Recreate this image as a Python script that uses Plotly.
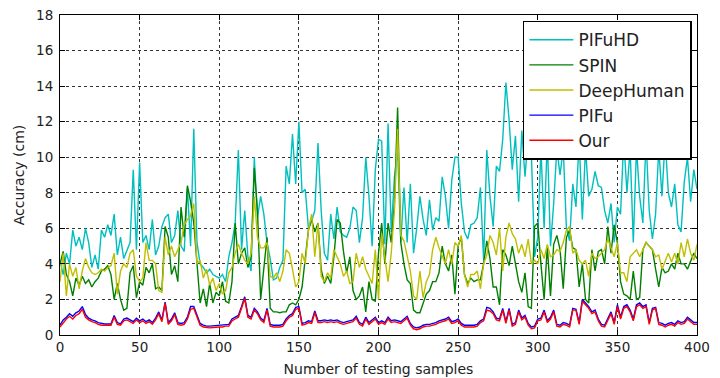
import plotly.graph_objects as go

# sample index (every second testing sample)
samples = list(range(0, 401, 2))

pifuhd = [
    4.2,3.4,4.6,4.0,5.9,5.0,5.5,4.8,6.0,5.2,3.8,4.5,3.7,5.9,5.5,6.2,5.6,6.8,4.5,5.5,4.3,4.8,5.2,9.3,4.8,
    9.7,5.2,5.6,4.8,6.5,4.5,5.0,6.1,6.6,6.8,5.2,5.6,7.0,5.0,4.7,8.3,5.0,11.6,5.2,4.0,3.8,3.5,3.7,3.4,3.3,
    3.2,3.4,3.0,4.4,5.2,6.3,10.4,4.8,7.0,4.4,3.6,10.0,6.6,7.8,6.8,5.2,4.3,3.1,3.2,3.8,4.2,9.5,8.5,11.3,8.5,
    12.0,8.0,8.2,6.0,6.4,7.0,10.8,7.0,4.6,4.2,6.8,5.4,7.2,5.8,5.6,5.5,6.0,7.2,7.0,5.2,6.6,10.0,7.8,5.0,9.3,
    11.0,10.9,5.1,11.9,5.8,8.9,10.4,5.2,8.3,5.2,8.5,4.6,6.0,7.8,6.5,5.6,7.6,5.9,6.6,6.4,8.9,7.8,6.0,8.7,10.0,
    10.0,7.4,5.8,5.4,6.2,6.3,6.6,8.3,4.2,10.4,7.8,6.1,9.5,9.2,11.0,14.2,12.1,9.3,11.2,7.5,11.5,8.9,11.2,10.2,4.4,
    5.5,10.5,6.0,11.0,5.0,7.4,10.5,9.0,10.5,6.0,5.3,8.5,7.2,11.0,6.5,10.5,7.8,8.2,9.2,8.4,8.3,7.0,6.3,7.4,5.2,
    7.2,6.8,11.0,8.0,10.5,5.2,10.5,7.8,6.3,11.0,7.0,5.4,6.8,10.5,7.8,11.0,8.0,7.2,8.5,6.2,5.8,8.6,10.0,7.5,9.3,8.2,
]

spin = [
    4.0,4.7,3.4,3.0,2.2,3.2,2.8,3.3,2.9,3.1,2.7,3.0,3.2,3.6,3.7,3.9,3.4,2.0,2.9,2.0,1.4,1.5,3.5,3.9,2.1,
    3.0,2.8,3.8,3.5,4.0,2.6,2.7,2.5,6.1,5.5,3.4,3.9,3.0,7.2,5.5,8.4,7.5,6.3,3.8,1.8,2.6,1.6,2.9,1.8,2.4,
    2.2,3.0,1.9,1.8,3.0,6.3,4.0,4.6,4.9,3.8,4.4,9.4,7.0,2.0,3.6,5.5,1.5,1.3,1.3,1.25,1.3,1.3,1.7,1.8,1.7,
    2.0,2.7,4.4,5.9,6.5,5.8,6.3,3.7,2.9,3.3,2.9,4.4,6.5,6.3,4.7,3.5,4.4,2.5,2.0,2.2,2.7,1.3,3.0,2.0,1.9,
    4.6,6.3,4.0,6.3,5.2,7.4,12.8,5.2,4.0,3.1,2.9,1.4,1.25,1.25,1.8,2.3,2.5,3.0,3.0,3.5,5.0,4.0,3.6,4.5,2.3,
    5.0,5.5,3.4,2.9,3.2,3.0,3.1,3.1,4.0,5.3,4.3,2.7,2.7,1.7,4.8,4.5,3.9,5.0,4.0,3.0,2.4,3.5,1.6,1.5,6.1,
    6.3,4.0,2.0,5.0,2.2,5.1,5.6,4.8,2.6,5.5,5.9,4.9,4.8,2.7,4.0,2.0,1.8,4.8,3.6,4.7,4.8,4.0,6.1,4.6,6.2,
    5.2,3.0,2.3,2.2,2.0,3.6,2.0,2.1,4.8,5.2,5.0,4.8,3.7,2.7,3.8,3.5,3.6,4.0,3.7,4.6,4.0,4.0,3.7,4.1,4.6,4.3,
]

deephuman = [
    3.0,4.6,2.2,4.0,3.3,3.8,2.6,3.6,4.3,3.8,3.5,3.4,3.5,3.7,3.6,3.8,3.9,4.6,2.3,3.6,4.0,3.8,4.6,4.8,3.3,
    3.0,3.2,5.2,4.2,4.2,4.0,2.5,2.4,5.5,4.5,5.0,4.4,4.8,5.2,6.2,6.5,6.7,7.4,4.0,4.2,3.2,3.7,2.8,3.2,2.5,
    2.9,2.3,2.5,3.5,3.8,4.6,5.1,4.6,4.2,4.0,4.6,7.8,5.5,4.9,4.9,5.2,3.3,3.2,3.5,3.0,3.6,4.8,4.6,3.7,2.7,
    3.0,4.6,4.0,5.9,6.8,4.4,6.3,3.3,3.0,3.5,3.2,4.8,4.4,4.0,3.3,3.6,2.9,3.0,4.6,3.8,4.4,3.7,3.3,2.9,4.8,
    2.0,5.7,4.2,3.0,4.6,7.0,11.6,5.6,5.3,4.5,3.6,2.2,2.0,3.6,2.1,3.0,3.4,4.8,5.5,4.9,4.4,4.0,4.8,4.0,5.2,
    5.0,5.6,3.4,2.7,3.4,3.4,3.6,2.6,4.0,4.5,5.6,5.2,4.5,6.0,3.6,5.5,6.3,5.7,5.4,4.6,5.1,4.4,5.4,4.0,4.2,
    4.0,4.8,4.3,5.1,4.4,4.5,4.8,4.7,5.2,5.9,6.1,4.6,4.8,4.2,4.0,4.2,3.3,4.6,4.3,4.4,4.6,4.8,5.4,4.9,4.4,
    5.2,3.5,3.5,3.0,4.4,4.6,4.8,4.4,4.8,5.2,5.0,4.8,4.4,4.5,3.7,4.2,4.6,4.1,4.6,4.0,5.2,4.4,5.4,4.6,4.2,5.1,
]

pifu = [
    0.55,0.85,1.0,1.2,1.05,1.25,1.35,1.6,1.15,0.95,0.85,0.8,0.7,0.65,0.62,0.62,0.62,1.1,0.7,0.62,0.9,0.95,0.85,0.75,0.95,
    0.8,0.9,0.75,0.85,0.7,0.95,1.3,0.85,1.85,0.7,0.9,1.25,0.7,0.65,0.7,1.0,1.6,1.6,1.1,0.65,0.55,0.5,0.5,0.52,0.55,
    0.55,0.55,0.6,0.6,0.9,1.0,1.1,1.6,2.15,1.1,1.0,1.5,1.3,0.95,0.8,1.5,0.6,0.55,0.55,0.55,0.6,0.9,1.1,1.2,1.55,
    1.6,0.65,0.7,0.8,0.75,1.35,0.8,0.8,0.85,0.8,0.85,0.8,0.85,0.75,0.7,0.75,0.8,0.85,1.05,0.7,0.6,1.0,0.7,0.85,1.0,
    0.7,0.8,0.7,1.0,0.8,0.85,0.8,0.75,0.9,1.05,0.65,0.45,0.4,0.45,0.55,0.6,0.6,0.65,0.7,0.8,0.85,0.9,1.0,0.75,0.8,
    0.9,0.65,0.55,0.55,0.55,0.55,0.6,0.8,0.9,1.55,1.5,1.3,0.95,0.9,1.5,0.75,1.5,0.6,0.7,1.4,0.95,1.1,0.65,0.45,0.5,
    0.9,0.95,1.4,0.8,1.0,1.4,0.6,0.55,0.7,0.65,0.55,1.5,1.45,0.7,2.0,1.8,1.6,1.3,1.4,0.9,0.6,0.55,0.9,1.3,0.7,
    1.7,1.0,1.6,1.7,1.4,0.9,1.7,1.8,1.6,1.7,0.7,1.5,1.55,0.7,0.65,0.55,0.65,0.7,0.6,0.8,0.7,0.75,1.0,0.85,0.7,0.7,
]

our = [
    0.45,0.7,0.9,1.05,0.9,1.1,1.2,1.45,1.0,0.85,0.75,0.7,0.6,0.55,0.55,0.55,0.55,1.0,0.6,0.55,0.8,0.85,0.75,0.65,0.85,
    0.7,0.8,0.65,0.75,0.6,0.85,1.2,0.75,1.8,0.6,0.8,1.15,0.6,0.55,0.6,0.9,1.45,1.5,1.0,0.55,0.45,0.42,0.4,0.42,0.45,
    0.45,0.45,0.5,0.5,0.8,0.9,1.0,1.5,2.05,1.0,0.9,1.4,1.2,0.85,0.7,1.4,0.5,0.45,0.45,0.45,0.5,0.8,1.0,1.1,1.45,
    1.5,0.55,0.6,0.7,0.65,1.25,0.7,0.7,0.75,0.7,0.75,0.7,0.75,0.65,0.6,0.65,0.7,0.75,0.95,0.6,0.5,0.9,0.6,0.75,0.9,
    0.6,0.7,0.6,0.9,0.7,0.75,0.7,0.65,0.8,0.95,0.55,0.35,0.3,0.35,0.45,0.5,0.5,0.55,0.6,0.7,0.75,0.8,0.9,0.65,0.7,
    0.8,0.55,0.45,0.45,0.45,0.45,0.5,0.7,0.8,1.4,1.35,1.2,0.85,0.8,1.4,0.65,1.4,0.5,0.6,1.3,0.85,1.0,0.55,0.35,0.4,
    0.8,0.85,1.3,0.7,0.9,1.3,0.5,0.45,0.6,0.55,0.45,1.4,1.4,0.6,1.9,1.7,1.5,1.2,1.3,0.8,0.5,0.45,0.8,1.2,0.6,
    1.6,0.9,1.5,1.6,1.3,0.8,1.6,1.7,1.5,1.6,0.6,1.4,1.5,0.6,0.55,0.45,0.55,0.6,0.5,0.7,0.6,0.65,0.9,0.75,0.6,0.6,
]

series_names = ["PIFuHD", "SPIN", "DeepHuman", "PIFu", "Our"]
series_values = [pifuhd, spin, deephuman, pifu, our]
series_colors = ["#00BFBF", "#008000", "#BFBF00", "#0000FF", "#FF0000"]

fig = go.Figure()
for name, vals, col in zip(series_names, series_values, series_colors):
    fig.add_trace(go.Scatter(x=samples, y=vals, mode="lines", name=name,
                             line=dict(color=col, width=1.4)))

font_family = "DejaVu Sans"
axis_common = dict(
    showline=True, linecolor="black", linewidth=1, mirror="allticks",
    ticks="inside", ticklen=5, tickcolor="black", tickwidth=1,
    showgrid=True, gridcolor="#333", gridwidth=0.8, griddash="dot",
    zeroline=False, automargin=False,
    tickfont=dict(family=font_family, size=13.5, color="#222"),
)

fig.update_layout(
    width=720, height=378,
    margin=dict(l=60, r=23, t=15, b=43),
    paper_bgcolor="white", plot_bgcolor="white",
    font=dict(family=font_family, color="#222"),
    xaxis=dict(range=[0, 400], dtick=50, ticklabelstandoff=0,
               title=dict(text="Number of testing samples", font=dict(size=14), standoff=9),
               **axis_common),
    yaxis=dict(range=[0, 18], dtick=2, ticklabelstandoff=3,
               title=dict(text="Accuracy (cm)", font=dict(size=14), standoff=8),
               **axis_common),
    legend=dict(x=0.992, y=0.982, xanchor="right", yanchor="top",
                bgcolor="white", bordercolor="black", borderwidth=1.5,
                font=dict(family=font_family, size=17, color="#222"),
                itemwidth=44, tracegroupgap=0),
    showlegend=True,
)

fig.write_html("out.html")
